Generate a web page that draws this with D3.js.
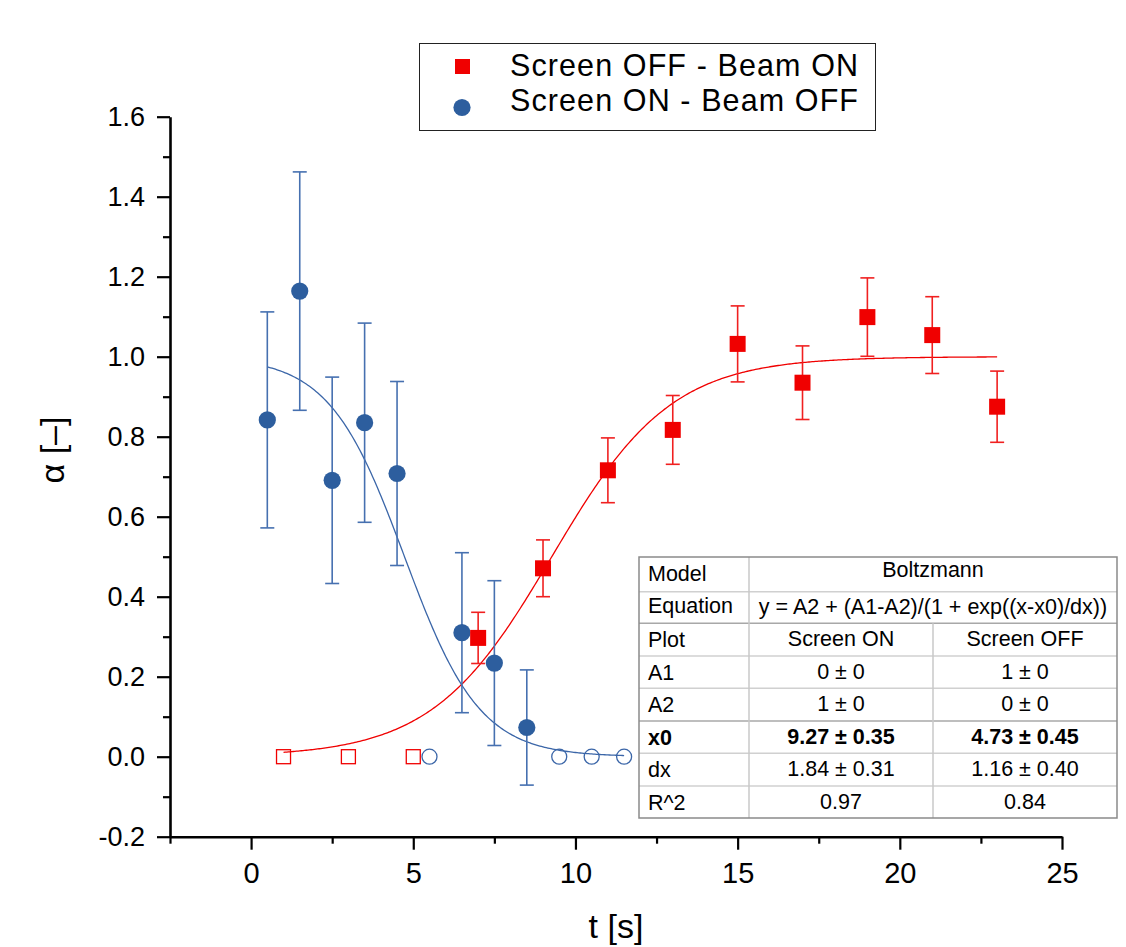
<!DOCTYPE html>
<html>
<head>
<meta charset="utf-8">
<script src="https://cdn.jsdelivr.net/npm/d3@7/dist/d3.min.js"></script>
<style>
    body { margin: 0; background: #fff; }
    text { font-family: "Liberation Sans", Arial, sans-serif; fill: #000; }
</style>
</head>
<body>
<svg id="grafico"></svg>
<script>

// dados
const tempoOn = [0.5, 1.5, 2.5, 3.5, 4.5, 6.5, 7.5, 8.5];
const alfaOn = [0.842, 1.164, 0.691, 0.835, 0.708, 0.31, 0.234, 0.073];
const erroOn = [0.27, 0.298, 0.258, 0.249, 0.23, 0.2, 0.206, 0.144];
const tempoOnZero = [5.5, 9.5, 10.5, 11.5];

const tempoOff = [7, 9, 11, 13, 15, 17, 19, 21, 23];
const alfaOff = [0.297, 0.471, 0.716, 0.817, 1.032, 0.935, 1.099, 1.054, 0.875];
const erroOff = [0.064, 0.071, 0.081, 0.086, 0.095, 0.092, 0.098, 0.096, 0.089];
const tempoOffZero = [1, 3, 5];

// parametros do ajuste Boltzmann (tabela)
const ajusteScreenOn = { A1: 0, A2: 1, x0: 9.27, dx: 1.84, inicio: 1, fim: 23 };
const ajusteScreenOff = { A1: 1, A2: 0, x0: 4.73, dx: 1.16, inicio: 0.5, fim: 11.5 };

const legendas = ['Screen OFF - Beam ON', 'Screen ON - Beam OFF'];

const tabelaLinhas = [
    ['Model', 'Boltzmann'],
    ['Equation', 'y = A2 + (A1-A2)/(1 + exp((x-x0)/dx))'],
    ['Plot', 'Screen ON', 'Screen OFF'],
    ['A1', '0 \u00b1 0', '1 \u00b1 0'],
    ['A2', '1 \u00b1 0', '0 \u00b1 0'],
    ['x0', '9.27 \u00b1 0.35', '4.73 \u00b1 0.45'],
    ['dx', '1.84 \u00b1 0.31', '1.16 \u00b1 0.40'],
    ['R^2', '0.97', '0.84']
];

const ticksX = [0, 5, 10, 15, 20, 25];
const ticksXMenores = [-2.5, 2.5, 7.5, 12.5, 17.5, 22.5];
const ticksY = [-0.2, 0, 0.2, 0.4, 0.6, 0.8, 1.0, 1.2, 1.4, 1.6];
const ticksYMenores = [-0.1, 0.1, 0.3, 0.5, 0.7, 0.9, 1.1, 1.3, 1.5];

const vermelho = '#f00000';
const azul = '#2d5e9e';

let svg = d3.select('#grafico')
    .attr('width', 1126)
    .attr('height', 947);

svg.append('rect')
    .attr('width', 1126)
    .attr('height', 947)
    .attr('fill', '#fff');

let fnX = d3.scaleLinear().domain([-2.5, 25]).range([170, 1062]);
let fnY = d3.scaleLinear().domain([-0.2, 1.6]).range([836.7, 116.7]);

// eixos
function estiloEixo(g) {
    g.select('.domain').attr('stroke', '#000').attr('stroke-width', 2.6);
    g.selectAll('.tick line').attr('stroke', '#000').attr('stroke-width', 2.2);
    g.selectAll('text').style('font-size', '27px').attr('fill', '#000');
}

svg.append('g')
    .attr('transform', 'translate(0,' + fnY(-0.2) + ')')
    .call(d3.axisBottom(fnX).tickValues(ticksXMenores).tickSize(7).tickSizeOuter(0).tickFormat(''))
    .call(g => g.select('.domain').remove())
    .call(estiloEixo);

svg.append('g')
    .attr('transform', 'translate(' + fnX(-2.5) + ',0)')
    .call(d3.axisLeft(fnY).tickValues(ticksYMenores).tickSize(7).tickSizeOuter(0).tickFormat(''))
    .call(g => g.select('.domain').remove())
    .call(estiloEixo);

svg.append('g')
    .attr('transform', 'translate(0,' + fnY(-0.2) + ')')
    .call(d3.axisBottom(fnX).tickValues(ticksX).tickSize(13).tickSizeOuter(0).tickFormat(d3.format('d')))
    .call(estiloEixo)
    .call(g => g.selectAll('text').attr('y', 46).attr('dy', 0).style('font-size', '29px'));

svg.append('g')
    .attr('transform', 'translate(' + fnX(-2.5) + ',0)')
    .call(d3.axisLeft(fnY).tickValues(ticksY).tickSize(13).tickSizeOuter(0).tickPadding(12)
        .tickFormat(d => d3.format('.1f')(d).replace('\u2212', '-')))
    .call(estiloEixo);

// titulos dos eixos
svg.append('text')
    .attr('x', 616)
    .attr('y', 938)
    .style('text-anchor', 'middle')
    .style('font-size', '34px')
    .text('t [s]');

svg.append('text')
    .attr('transform', 'translate(64,450) rotate(-90)')
    .style('text-anchor', 'middle')
    .style('font-size', '34px')
    .text('\u03b1 [\u2013]');

// curvas de ajuste
function boltzmann(p, x) {
    return p.A2 + (p.A1 - p.A2) / (1 + Math.exp((x - p.x0) / p.dx));
}

let linha = d3.line().x(d => fnX(d[0])).y(d => fnY(d[1]));

[[ajusteScreenOn, vermelho], [ajusteScreenOff, '#3b66a8']].forEach(([p, cor]) => {
    let pontos = d3.range(p.inicio, p.fim + 0.001, 0.05).map(x => [x, boltzmann(p, x)]);
    svg.append('path')
        .datum(pontos)
        .attr('d', linha)
        .attr('fill', 'none')
        .attr('stroke', cor)
        .attr('stroke-width', 1.3);
});

// barras de erro
function barrasErro(xs, ys, es, cor) {
    let dados = xs.map((x, i) => ({ x: x, y: ys[i], e: es[i] }));
    let g = svg.append('g')
        .attr('stroke', cor)
        .attr('stroke-width', 1.6)
        .attr('fill', 'none');
    g.selectAll('.haste').data(dados).enter().append('line')
        .attr('x1', d => fnX(d.x)).attr('x2', d => fnX(d.x))
        .attr('y1', d => fnY(d.y - d.e)).attr('y2', d => fnY(d.y + d.e));
    g.selectAll('.topo').data(dados).enter().append('line')
        .attr('x1', d => fnX(d.x) - 7).attr('x2', d => fnX(d.x) + 7)
        .attr('y1', d => fnY(d.y + d.e)).attr('y2', d => fnY(d.y + d.e));
    g.selectAll('.base').data(dados).enter().append('line')
        .attr('x1', d => fnX(d.x) - 7).attr('x2', d => fnX(d.x) + 7)
        .attr('y1', d => fnY(d.y - d.e)).attr('y2', d => fnY(d.y - d.e));
}

barrasErro(tempoOn, alfaOn, erroOn, '#4670b0');
barrasErro(tempoOff, alfaOff, erroOff, '#f02020');

// marcadores
svg.append('g').selectAll('circle')
    .data(tempoOn.map((x, i) => [x, alfaOn[i]]))
    .enter().append('circle')
    .attr('cx', d => fnX(d[0]))
    .attr('cy', d => fnY(d[1]))
    .attr('r', 8.6)
    .attr('fill', azul);

svg.append('g').selectAll('circle')
    .data(tempoOnZero)
    .enter().append('circle')
    .attr('cx', d => fnX(d))
    .attr('cy', fnY(0))
    .attr('r', 7.5)
    .attr('fill', 'none')
    .attr('stroke', '#3b66a8')
    .attr('stroke-width', 1.3);

svg.append('g').selectAll('rect')
    .data(tempoOff.map((x, i) => [x, alfaOff[i]]))
    .enter().append('rect')
    .attr('x', d => fnX(d[0]) - 8)
    .attr('y', d => fnY(d[1]) - 8)
    .attr('width', 16)
    .attr('height', 16)
    .attr('fill', vermelho);

svg.append('g').selectAll('rect')
    .data(tempoOffZero)
    .enter().append('rect')
    .attr('x', d => fnX(d) - 7)
    .attr('y', fnY(0) - 7)
    .attr('width', 14)
    .attr('height', 14)
    .attr('fill', 'none')
    .attr('stroke', vermelho)
    .attr('stroke-width', 1.3);

// legenda
let legenda = svg.append('g');
legenda.append('rect')
    .attr('x', 419.5).attr('y', 43.5)
    .attr('width', 456).attr('height', 87)
    .attr('fill', '#fff')
    .attr('stroke', '#222')
    .attr('stroke-width', 1);
legenda.append('rect')
    .attr('x', 455).attr('y', 59)
    .attr('width', 15).attr('height', 15)
    .attr('fill', vermelho);
legenda.append('circle')
    .attr('cx', 462).attr('cy', 107.5)
    .attr('r', 8.6)
    .attr('fill', azul);
legenda.selectAll('.rotulo').data(legendas).enter().append('text')
    .attr('x', 510)
    .attr('y', (d, i) => 76 + i * 35)
    .style('font-size', '30.5px')
    .style('letter-spacing', '1.1px')
    .text(d => d);

// tabela de parametros
const colunas = [639, 749, 933, 1117];
const linhasY = [557, 591.7, 623.3, 656, 688.3, 721, 753.3, 786, 818];

let tabela = svg.append('g');
tabela.append('rect')
    .attr('x', colunas[0]).attr('y', linhasY[0])
    .attr('width', colunas[3] - colunas[0])
    .attr('height', linhasY[8] - linhasY[0])
    .attr('fill', '#fff');

linhasY.slice(1, 8).forEach((y, i) => {
    tabela.append('line')
        .attr('x1', colunas[0]).attr('x2', colunas[3])
        .attr('y1', y).attr('y2', y)
        .attr('stroke', (i === 1 || i === 4) ? '#a8a8a8' : '#d0d0d0')
        .attr('stroke-width', 1.5);
});
tabela.append('line')
    .attr('x1', colunas[1]).attr('x2', colunas[1])
    .attr('y1', linhasY[0]).attr('y2', linhasY[8])
    .attr('stroke', '#c8c8c8').attr('stroke-width', 1.5);
tabela.append('line')
    .attr('x1', colunas[2]).attr('x2', colunas[2])
    .attr('y1', linhasY[2]).attr('y2', linhasY[8])
    .attr('stroke', '#c8c8c8').attr('stroke-width', 1.5);
tabela.append('rect')
    .attr('x', colunas[0]).attr('y', linhasY[0])
    .attr('width', colunas[3] - colunas[0])
    .attr('height', linhasY[8] - linhasY[0])
    .attr('fill', 'none')
    .attr('stroke', '#8a8a8a')
    .attr('stroke-width', 1.5);

tabelaLinhas.forEach((linhaTab, i) => {
    let base = linhasY[i] + (i === 0 ? 20 : 22.5);
    let negrito = linhaTab[0] === 'x0';
    tabela.append('text')
        .attr('x', 648)
        .attr('y', linhasY[i] + 23.5 - (i === 1 ? 2 : 0))
        .style('font-size', '21.5px')
        .style('font-weight', negrito ? 'bold' : 'normal')
        .text(linhaTab[0]);
    if (linhaTab.length === 2) {
        tabela.append('text')
            .attr('x', (colunas[1] + colunas[3]) / 2)
            .attr('y', base)
            .style('text-anchor', 'middle')
            .style('font-size', '21.5px')
            .text(linhaTab[1]);
    } else {
        [1, 2].forEach(j => {
            tabela.append('text')
                .attr('x', (colunas[j] + colunas[j + 1]) / 2)
                .attr('y', base)
                .style('text-anchor', 'middle')
                .style('font-size', '21.5px')
                .style('font-weight', negrito ? 'bold' : 'normal')
                .text(linhaTab[j]);
        });
    }
});

</script>
</body>
</html>
